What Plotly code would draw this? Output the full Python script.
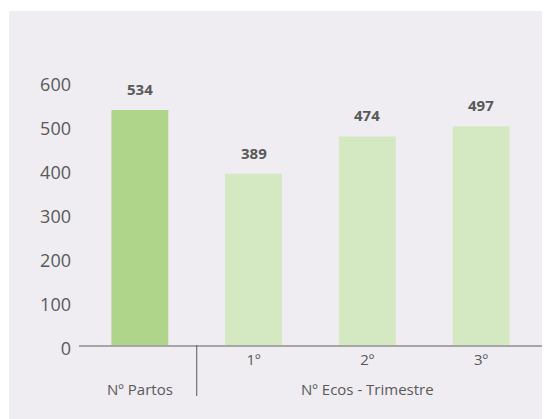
import plotly.graph_objects as go

categories = ["Nº Partos", "1º", "2º", "3º"]
tick_labels = ["", "1º", "2º", "3º"]
values = [534, 389, 474, 497]
bar_colors = ["#aed589", "#d4e8c1", "#d4e8c1", "#d4e8c1"]
groups = [("Nº Partos", "Nº Partos"), ("Nº Ecos - Trimestre", "2º")]
y_ticks = [0, 100, 200, 300, 400, 500, 600]

# page has an 8px body margin; figure coordinates below are page coords - 8
OFF = 8
W, H = 550, 419
L, R, T, B = 79 - OFF, 550 - (542 - OFF), 81 - OFF, 419 - (345 - OFF)
pw, ph = W - L - R, H - T - B
AX = 345 - OFF  # axis line y in figure coords
BG = "#efedf2"
TXT = "#595959"
FONT = "Open Sans"

fig = go.Figure()
fig.add_trace(go.Bar(
    x=categories, y=values, marker=dict(color=bar_colors, line=dict(width=0)),
    width=0.5, hoverinfo="skip",
))

annotations = []
for c, v in zip(categories, values):
    annotations.append(dict(x=c, y=v, xref="x", yref="y", text=f"<b>{v}</b>",
                            showarrow=False, yshift=21, yanchor="middle",
                            font=dict(family=FONT, size=15, color=TXT)))
for label, xc in groups:
    annotations.append(dict(x=xc, y=-((389 - OFF) - AX) / ph, xref="x", yref="paper",
                            text=label, showarrow=False, yanchor="middle",
                            font=dict(family=FONT, size=15, color=TXT)))

shapes = [
    dict(type="rect", xref="paper", yref="paper", layer="below",
         x0=((9 - OFF) - L) / pw, x1=(W - L) / pw + 0.05,
         y0=-(H - AX) / ph - 0.05, y1=(AX - (11 - OFF)) / ph,
         fillcolor=BG, line=dict(width=0)),
    dict(type="line", xref="x", yref="paper", x0=0.5, x1=0.5, y0=0,
         y1=-((396 - OFF) - AX) / ph,
         line=dict(color="#595959", width=1)),
]

fig.update_layout(
    width=W, height=H, margin=dict(l=L, r=R, t=T, b=B),
    paper_bgcolor="white", plot_bgcolor=BG,
    showlegend=False, bargap=0.5,
    font=dict(family=FONT, size=15, color=TXT),
    annotations=annotations, shapes=shapes,
    xaxis=dict(type="category", tickvals=categories, ticktext=tick_labels,
               showline=True, linecolor="#a6a6a6", linewidth=1.5, ticks="",
               showgrid=False, zeroline=False, range=[-0.535, 3.535],
               tickfont=dict(family=FONT, size=15, color=TXT)),
    yaxis=dict(range=[0, 600], tickvals=y_ticks, showgrid=False, zeroline=False,
               showline=False, ticks="", ticklabelstandoff=7, ticklabelshift=4,
               tickfont=dict(family=FONT, size=18, color=TXT)),
)

fig.write_html("out.html")
